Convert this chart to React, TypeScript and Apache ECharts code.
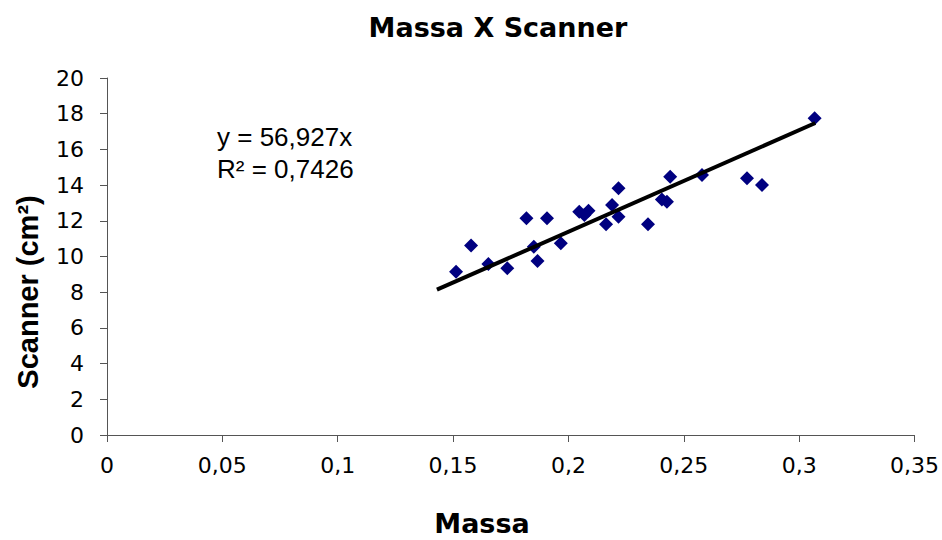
import React, { useEffect, useRef } from "react";
import * as echarts from "echarts";

const titleText = "Massa X Scanner";
const xAxisName = "Massa";
const yAxisName = "Scanner (cm²)";

const massa = [
  0.1513, 0.1578, 0.1653, 0.1735, 0.1818, 0.185, 0.1866, 0.1907, 0.1967,
  0.2047, 0.2087, 0.2069, 0.2163, 0.2189, 0.2217, 0.2217, 0.2345, 0.2405,
  0.2427, 0.2441, 0.2579, 0.2774, 0.2839, 0.3067,
];
const scanner = [
  9.15, 10.61, 9.58, 9.34, 12.14, 10.55, 9.75, 12.14, 10.74,
  12.51, 12.57, 12.32, 11.8, 12.89, 13.82, 12.23, 11.8, 13.2,
  13.07, 14.47, 14.57, 14.38, 14.01, 17.74,
];

const trendMassa = [0.143, 0.307];
const trendScanner = [8.14, 17.48];

const equationLines = ["y = 56,927x", "R² = 0,7426"];

const fmt = (v: number) => String(+v.toFixed(2)).replace(".", ",");

export default function App() {
  const ref = useRef<HTMLDivElement>(null);
  useEffect(() => {
    if (!ref.current) return;
    const chart = echarts.init(ref.current, undefined, { renderer: "svg" });
    const points = massa.map((x, i) => [x, scanner[i]]);
    const trend = trendMassa.map((x, i) => [x, trendScanner[i]]);
    const axisColor = "#555555";
    const tickFont = {
      fontFamily: "DejaVu Sans",
      fontSize: 22,
      color: "#000000",
    };
    chart.setOption({
      animation: false,
      backgroundColor: "#ffffff",
      title: {
        text: titleText,
        left: 493,
        top: 9,
        textAlign: "center",
        textStyle: {
          fontFamily: "DejaVu Sans",
          fontWeight: "bold",
          fontSize: 27,
          color: "#000000",
        },
      },
      grid: { left: 107, right: 27, top: 78, bottom: 105, containLabel: false },
      xAxis: {
        type: "value",
        min: 0,
        max: 0.35,
        interval: 0.05,
        splitLine: { show: false },
        axisLine: { show: true, onZero: false, lineStyle: { color: axisColor, width: 1 } },
        axisTick: { show: true, inside: false, length: 7, lineStyle: { color: axisColor } },
        axisLabel: { ...tickFont, margin: 19, formatter: fmt, showMaxLabel: true, showMinLabel: true },
      },
      yAxis: {
        type: "value",
        min: 0,
        max: 20,
        interval: 2,
        splitLine: { show: false },
        axisLine: { show: true, onZero: false, lineStyle: { color: axisColor, width: 1 } },
        axisTick: { show: true, inside: false, length: 7, lineStyle: { color: axisColor } },
        axisLabel: { ...tickFont, margin: 23, formatter: fmt },
      },
      graphic: [
        {
          type: "text",
          x: 482,
          y: 523,
          style: {
            text: xAxisName,
            fontFamily: "DejaVu Sans",
            fontWeight: "bold",
            fontSize: 27,
            fill: "#000000",
            align: "center",
            verticalAlign: "middle",
          },
        },
        {
          type: "text",
          x: 28,
          y: 292,
          rotation: Math.PI / 2,
          style: {
            text: yAxisName,
            fontFamily: "Liberation Sans",
            fontWeight: "bold",
            fontSize: 29,
            fill: "#000000",
            align: "center",
            verticalAlign: "middle",
          },
        },
        {
          type: "text",
          x: 217,
          y: 137,
          style: {
            text: equationLines[0],
            fontFamily: "Liberation Sans",
            fontSize: 26,
            fill: "#000000",
            align: "left",
            verticalAlign: "middle",
          },
        },
        {
          type: "text",
          x: 217,
          y: 169,
          style: {
            text: equationLines[1],
            fontFamily: "Liberation Sans",
            fontSize: 26,
            fill: "#000000",
            align: "left",
            verticalAlign: "middle",
          },
        },
      ],
      series: [
        {
          type: "line",
          data: trend,
          symbol: "none",
          lineStyle: { color: "#000000", width: 4 },
          z: 3,
          silent: true,
        },
        {
          type: "scatter",
          data: points,
          symbol: "diamond",
          symbolSize: 14,
          itemStyle: { color: "#000080", opacity: 1 },
          z: 2,
        },
      ],
    });
    return () => chart.dispose();
  }, []);
  return <div ref={ref} style={{ width: 942, height: 540, position: "absolute", left: 0, top: 0 }} />;
}
